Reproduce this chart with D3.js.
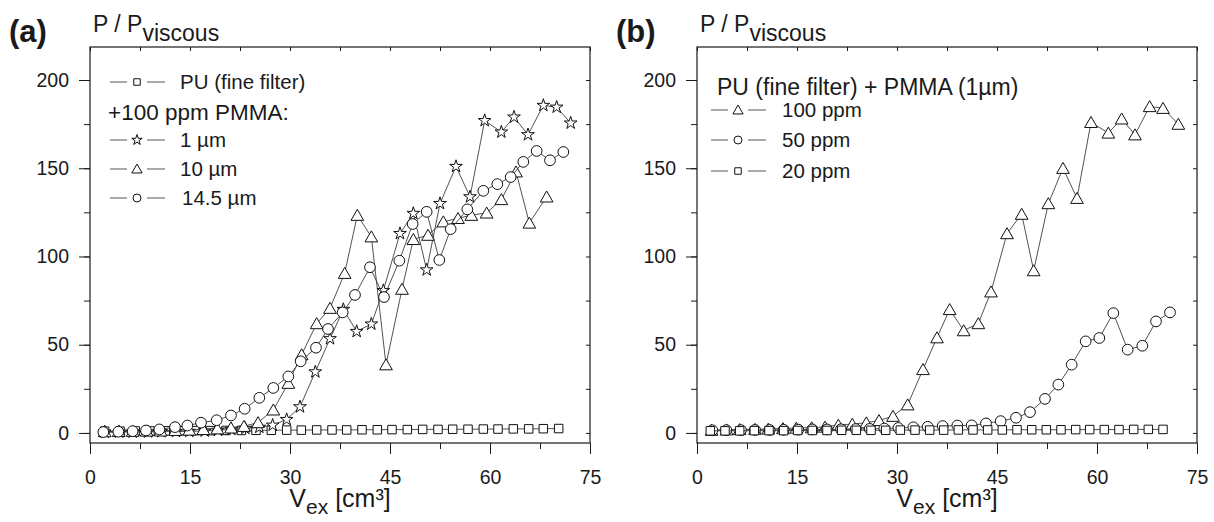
<!DOCTYPE html>
<html><head><meta charset="utf-8">
<script src="https://cdn.jsdelivr.net/npm/d3@7"></script>
<style>body{margin:0;background:#fff} text{font-family:"Liberation Sans",Arial,Helvetica,sans-serif;fill:#1a1a1a}</style>
</head><body><svg id="c" width="1214" height="522"></svg>
<script>
// ---------- data ----------
const xTicks = [0, 15, 30, 45, 60, 75];
const yTicks = [0, 50, 100, 150, 200];

// Panel (a)
const aPU_x = [2.2,4.5,6.8,9.0,11.3,13.6,15.8,18.1,20.4,22.7,24.9,27.2,29.5,31.7,34.0,36.3,38.5,40.8,43.1,45.3,47.6,49.9,52.2,54.4,56.7,59.0,61.2,63.5,65.8,68.0,70.3];
const aPU_y = [1.0,1.0,1.1,1.1,1.2,1.2,1.3,1.3,1.4,1.4,1.5,1.5,1.6,1.6,1.7,1.7,1.7,1.8,1.8,1.9,1.9,2.0,2.0,2.1,2.1,2.2,2.2,2.3,2.3,2.4,2.5];
const a1um_x = [2.2,4.4,6.4,8.7,10.7,12.9,14.9,17.2,19.2,21.2,23.3,25.4,27.4,29.5,31.5,33.8,36.0,38.0,40.0,42.2,44.0,46.5,48.5,50.5,52.5,54.9,57.0,59.2,61.7,63.6,65.7,68.0,70.0,72.1];
const a1um_y = [0.5,0.5,0.5,0.6,0.7,0.8,0.9,1.1,1.5,2.0,2.6,3.2,4.4,7.6,14.8,34.6,53.4,70,57.5,61.7,80.7,113,124.4,92.4,130,151,133.8,177,170.5,179,169,185.6,184.6,175.6];
const a10um_x = [2.2,4.3,6.4,8.5,10.6,12.8,14.9,17.0,19.1,21.15,23.1,25.2,27.5,29.75,31.75,34.0,36.0,38.2,40.1,42.2,44.4,46.8,48.5,50.7,53.0,55.2,57.2,59.5,61.7,63.9,65.9,68.5];
const a10um_y = [0.8,0.9,1.0,1.1,1.2,1.5,1.7,2.0,2.4,2.9,3.8,5.9,13.1,28.2,44.4,62,70.7,90.5,123.4,111.2,38.7,81.5,109.7,112.1,119.7,121.6,123.4,124.7,132.3,148,119,133.8];
const a14um_x = [2.0,4.25,6.4,8.4,10.4,12.75,14.6,16.65,19.0,21.15,23.2,25.4,27.5,29.75,31.6,33.9,35.7,37.9,39.75,42.0,44.1,46.4,48.4,50.5,52.4,54.1,56.6,59.0,61.1,63.1,65.0,67.0,69.0,71.0];
const a14um_y = [0.5,0.7,1.0,1.4,2.0,3.3,4.2,5.8,7.2,9.9,13.7,19.9,25.5,32,40.6,48.3,58.9,68.3,78.2,93.9,77,97.6,118.4,125.3,98,115.5,126.7,137.2,141,145,153.6,159.8,154.5,159.2];

// Panel (b)
const b100_x = [2.2,4.45,6.4,8.7,10.7,12.9,14.9,17.2,19.2,21.2,23.3,25.4,27.3,29.4,31.6,33.9,36.0,37.9,40.0,42.2,44.1,46.5,48.7,50.5,52.7,54.9,57.0,59.1,61.7,63.7,65.7,67.9,69.9,72.2];
const b100_y = [1.6,1.8,2.0,2.1,2.3,2.5,2.8,3.0,3.4,4.5,5.0,5.8,7.1,9.5,16,36,54,70,58,62,80,113,124,92,130,150,133,176,170,178,169,185,184,175];
const b50_x = [2.3,4.4,6.6,8.7,10.9,13.0,15.2,17.3,19.5,21.6,23.8,25.9,28.1,30.2,32.45,34.6,36.85,39.05,41.2,43.35,45.55,47.85,49.95,52.2,54.2,56.2,58.3,60.35,62.45,64.6,66.8,68.85,70.95];
const b50_y = [1.5,1.6,1.6,1.7,1.7,1.8,1.9,2.0,2.0,2.1,2.2,2.3,2.5,2.8,3.2,3.5,3.9,4.2,4.3,5.4,6.7,8.6,11.8,19.3,27.4,38.7,51.9,53.8,67.9,47.2,49.4,63.2,68.3];
const b20_x = [2.0,4.2,6.4,8.6,10.8,13.0,15.1,17.3,19.5,21.7,23.9,26.1,28.3,30.5,32.7,34.9,37.0,39.2,41.4,43.6,45.8,48.0,50.2,52.4,54.6,56.8,58.9,61.1,63.3,65.5,67.7,69.9];
const b20_y = [1.2,1.2,1.2,1.3,1.3,1.3,1.4,1.4,1.4,1.5,1.5,1.5,1.5,1.6,1.6,1.6,1.6,1.7,1.7,1.7,1.7,1.8,1.8,1.8,1.8,1.9,1.9,1.9,1.9,2.0,2.0,2.0];

const legendA = ["PU (fine filter)", "+100 ppm PMMA:", "1 µm", "10 µm", "14.5 µm"];
const legendB = ["PU (fine filter) + PMMA (1µm)", "100 ppm", "50 ppm", "20 ppm"];

// ---------- drawing ----------
const svg = d3.select("#c");
const INK = "#1a1a1a";
const FRAME_TOP = 47, FRAME_BOT = 443, W = 500;
const yDomain = [-5.7, 218.7];

const shapes = {
  square: {type: d3.symbolSquare, size: 72},
  circle: {type: d3.symbolCircle, size: 90},
  triangle: {type: d3.symbolTriangle, size: 70},
  star: {type: d3.symbolStar, size: 50}
};

function panel(left, series, label) {
  const x = d3.scaleLinear().domain([0, 75]).range([left, left + W]);
  const y = d3.scaleLinear().domain(yDomain).range([FRAME_BOT, FRAME_TOP]);
  const g = svg.append("g");

  const minorX = d3.range(0, 76, 7.5);
  const minorY = d3.range(0, 201, 25);
  g.append("g").attr("transform", `translate(0,${FRAME_BOT})`)
    .call(d3.axisBottom(x).tickValues(minorX).tickSize(6).tickFormat(""));
  g.append("g").attr("transform", `translate(0,${FRAME_BOT})`)
    .call(d3.axisBottom(x).tickValues(xTicks).tickSize(11).tickPadding(16).tickFormat(d3.format("d")))
    .selectAll("text").attr("font-size", 19.5);
  g.append("g").attr("transform", `translate(0,${FRAME_TOP})`)
    .call(d3.axisBottom(x).tickValues(minorX).tickSize(4).tickFormat(""));
  g.append("g").attr("transform", `translate(${left},0)`)
    .call(d3.axisLeft(y).tickValues(minorY).tickSize(6).tickFormat(""));
  g.append("g").attr("transform", `translate(${left},0)`)
    .call(d3.axisLeft(y).tickValues(yTicks).tickSize(11).tickPadding(10).tickFormat(d3.format("d")))
    .selectAll("text").attr("font-size", 19.5);
  g.append("g").attr("transform", `translate(${left + W},0)`)
    .call(d3.axisLeft(y).tickValues(minorY).tickSize(4).tickFormat(""));
  g.selectAll(".domain").remove();
  g.selectAll(".tick line").attr("stroke", INK).attr("stroke-width", 1);
  g.selectAll(".tick text").attr("fill", INK).style("font-family", '"Liberation Sans",Arial,sans-serif');

  g.append("rect").attr("x", left).attr("y", FRAME_TOP).attr("width", W).attr("height", FRAME_BOT - FRAME_TOP)
    .attr("fill", "none").attr("stroke", INK).attr("stroke-width", 1.2);

  const line = d3.line().x(d => x(d[0])).y(d => y(d[1]));
  series.forEach(s => {
    const pts = s.x.map((v, i) => [v, s.y[i]]);
    g.append("path").attr("d", line(pts)).attr("fill", "none").attr("stroke", "#333").attr("stroke-width", 0.85);
    const sh = shapes[s.shape];
    g.selectAll(null).data(pts).enter().append("path")
      .attr("d", d3.symbol().type(sh.type).size(sh.size)())
      .attr("transform", d => `translate(${x(d[0])},${y(d[1]) + (s.shape === "triangle" ? 1.5 : 0)})`)
      .attr("fill", "#fff").attr("stroke", "#111").attr("stroke-width", 1);
  });

  svg.append("text").attr("x", left - 81).attr("y", 42).attr("font-size", 31).attr("font-weight", "bold").text(label);
  const yt = svg.append("text").attr("x", left + 3).attr("y", 32).attr("font-size", 23);
  yt.append("tspan").text("P / P");
  yt.append("tspan").attr("dy", 9).text("viscous");
  const xt = svg.append("text").attr("x", x(37.5)).attr("y", 507).attr("font-size", 25).attr("text-anchor", "middle");
  xt.append("tspan").text("V");
  xt.append("tspan").attr("dy", 7).attr("font-size", 21).text("ex");
  xt.append("tspan").attr("dy", -7).text(" [cm³]");
  return g;
}

function legendEntry(g, x0, yc, shape, text, textX) {
  g.append("line").attr("x1", x0).attr("x2", x0 + 17).attr("y1", yc).attr("y2", yc).attr("stroke", "#555").attr("stroke-width", 1);
  g.append("line").attr("x1", x0 + 37).attr("x2", x0 + 55).attr("y1", yc).attr("y2", yc).attr("stroke", "#555").attr("stroke-width", 1);
  const sz = {square: 42, circle: 50, triangle: 46, star: 34}[shape];
  g.append("path").attr("d", d3.symbol().type(shapes[shape].type).size(sz)())
    .attr("transform", `translate(${x0 + 27},${yc + (shape === "triangle" ? 1 : 0)})`)
    .attr("fill", "#fff").attr("stroke", "#111").attr("stroke-width", 1);
  g.append("text").attr("x", textX).attr("y", yc).attr("dy", "0.36em").attr("font-size", 20.5).text(text);
}

const gA = panel(90, [
  {x: aPU_x, y: aPU_y, shape: "square"},
  {x: a1um_x, y: a1um_y, shape: "star"},
  {x: a10um_x, y: a10um_y, shape: "triangle"},
  {x: a14um_x, y: a14um_y, shape: "circle"}
], "(a)");
legendEntry(gA, 110, 82, "square", legendA[0], 180);
gA.append("text").attr("x", 108).attr("y", 112).attr("dy", "0.36em").attr("font-size", 22.5).text(legendA[1]);
legendEntry(gA, 110, 140, "star", legendA[2], 180);
legendEntry(gA, 110, 169, "triangle", legendA[3], 180);
legendEntry(gA, 110, 198, "circle", legendA[4], 182);

const gB = panel(697, [
  {x: b100_x, y: b100_y, shape: "triangle"},
  {x: b50_x, y: b50_y, shape: "circle"},
  {x: b20_x, y: b20_y, shape: "square"}
], "(b)");
gB.append("text").attr("x", 717).attr("y", 87).attr("dy", "0.36em").attr("font-size", 23).text(legendB[0]);
legendEntry(gB, 711, 110, "triangle", legendB[1], 782);
legendEntry(gB, 711, 140, "circle", legendB[2], 782);
legendEntry(gB, 711, 171, "square", legendB[3], 782);
</script></body></html>
